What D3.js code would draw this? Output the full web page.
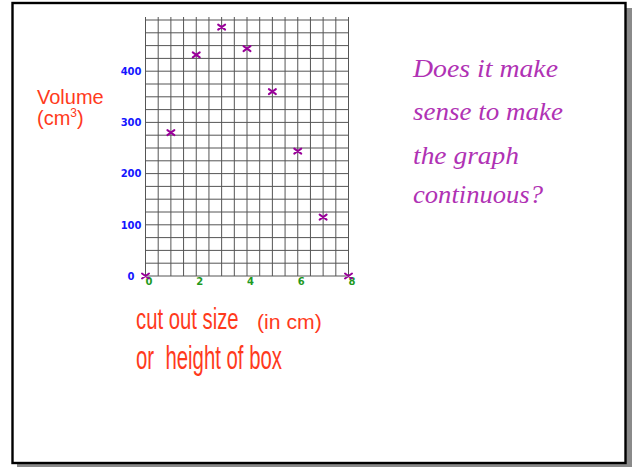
<!DOCTYPE html>
<html>
<head>
<meta charset="utf-8">
<script src="https://cdn.jsdelivr.net/npm/d3@7"></script>
<style>
  html, body { margin: 0; padding: 0; background: #fff; }
  svg { display: block; }
</style>
</head>
<body>
<svg id="chart" width="637" height="467"></svg>
<script>
// Cut-out size (cm) and the volume of the resulting box (cm³)
const cutSizes = [0, 1, 2, 3, 4, 5, 6, 7, 8];
const volumes = [0, 280, 432, 486, 444, 360, 244, 115, 0];
const xTickValues = [0, 2, 4, 6, 8];
const yTickValues = [0, 100, 200, 300, 400];
const xGridSteps = d3.range(0, 8.01, 0.5);
const yGridSteps = d3.range(0, 501, 25);
const questionLines = ["Does it make", "sense to make", "the graph", "continuous?"];

const svg = d3.select("#chart");

// slide frame with drop shadow
svg.append("rect").attr("x", 17).attr("y", 8).attr("width", 615).attr("height", 459).attr("fill", "#8a8a8a");
svg.append("rect").attr("x", 12.5).attr("y", 3).attr("width", 613).attr("height", 460)
  .attr("fill", "#fff").attr("stroke", "#000").attr("stroke-width", 2.4);

const x = d3.scaleLinear().domain([0, 8]).range([145.5, 348.5]);
const y = d3.scaleLinear().domain([0, 500]).range([276, 20]);

// graph-paper grid
const grid = svg.append("g").attr("stroke", "#555").attr("stroke-width", 1);
grid.selectAll("line.v").data(xGridSteps).join("line").attr("class", "v")
  .attr("x1", d => x(d)).attr("x2", d => x(d))
  .attr("y1", y(500) - 3).attr("y2", y(0));
grid.selectAll("line.h").data(yGridSteps).join("line").attr("class", "h")
  .attr("x1", x(0)).attr("x2", x(8))
  .attr("y1", d => y(d)).attr("y2", d => y(d));

// axis labels (no axis lines, only numbers)
const yAxis = svg.append("g").attr("transform", `translate(${x(0)},0)`)
  .call(d3.axisLeft(y).tickValues(yTickValues).tickSize(0).tickPadding(4));
yAxis.select(".domain").remove();
yAxis.selectAll("text").attr("fill", "#1515ff").attr("font-size", 10)
  .attr("font-weight", "bold").attr("font-family", "DejaVu Sans, sans-serif")
  .attr("dx", d => d === 0 ? -7 : 0);

const xAxis = svg.append("g").attr("transform", `translate(0,${y(0)})`)
  .call(d3.axisBottom(x).tickValues(xTickValues).tickSize(0).tickPadding(2));
xAxis.select(".domain").remove();
xAxis.selectAll("text").attr("fill", "#1f9a1f").attr("font-size", 10)
  .attr("font-weight", "bold").attr("dx", 3).attr("font-family", "DejaVu Sans, sans-serif");

// data points as small crosses
svg.append("g").selectAll("path").data(cutSizes).join("path")
  .attr("transform", (d, i) => `translate(${x(d)},${y(volumes[i])})`)
  .attr("d", "M-3.5,-2.5L3.5,2.5M-3.5,2.5L3.5,-2.5")
  .attr("stroke", "#990099").attr("stroke-width", 2).attr("fill", "none")
  .attr("stroke-linecap", "round");

// y axis title
const red = "#ff3a1c";
const sans = "Liberation Sans, Arial, sans-serif";
svg.append("text").attr("x", 37).attr("y", 103.5).attr("fill", red)
  .attr("font-family", sans).attr("font-size", 20).text("Volume");
const cm = svg.append("text").attr("x", 37).attr("y", 125).attr("fill", red)
  .attr("font-family", sans).attr("font-size", 20);
cm.append("tspan").text("(cm");
cm.append("tspan").attr("font-size", 12).attr("dy", -8).text("3");
cm.append("tspan").attr("dy", 8).text(")");

// x axis title, drawn in a condensed (horizontally squeezed) face
function condensed(tx, ty, size, sx, str) {
  svg.append("text")
    .attr("transform", `translate(${tx},${ty}) scale(${sx},1)`)
    .attr("fill", red).attr("font-family", sans).attr("font-size", size)
    .style("white-space", "pre").text(str);
}
condensed(136, 328.5, 29, 0.70, "cut out size");
condensed(257, 328.5, 20, 1.06, "(in cm)");
condensed(136, 369, 33, 0.617, "or  height of box");

// question beside the graph
const qBase = [76.5, 120, 163.5, 203];
const qWidth = [145, 150, 106, 130];
svg.append("g").selectAll("text").data(questionLines).join("text")
  .attr("x", 413).attr("y", (d, i) => qBase[i])
  .attr("fill", "#b032b4").attr("font-family", "Liberation Serif, serif")
  .attr("font-style", "italic").attr("font-size", 26)
  .attr("textLength", (d, i) => qWidth[i]).attr("lengthAdjust", "spacingAndGlyphs")
  .text(d => d);
</script>
</body>
</html>
